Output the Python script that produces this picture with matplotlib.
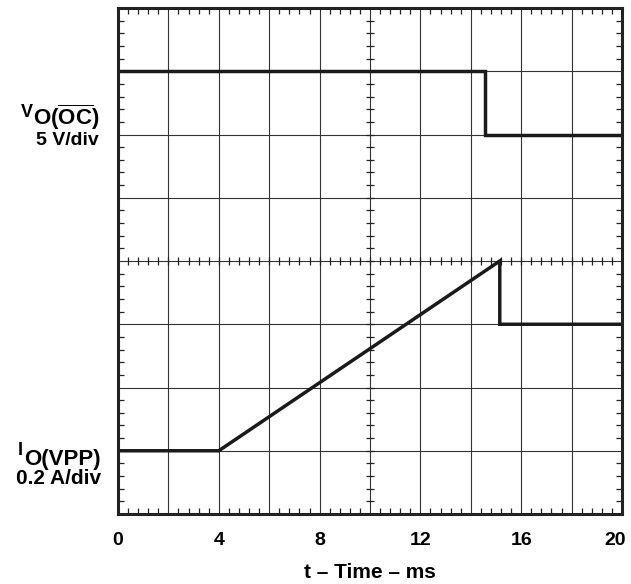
import numpy as np
import matplotlib
matplotlib.use("Agg")
import matplotlib.pyplot as plt
import matplotlib.transforms as mtrans
from matplotlib.ticker import MultipleLocator

plt.rcParams['font.family'] = ['Liberation Sans', 'DejaVu Sans']
plt.rcParams['font.weight'] = 'bold'
plt.rcParams['mathtext.fontset'] = 'custom'
plt.rcParams['mathtext.rm'] = 'Liberation Sans:bold'
plt.rcParams['mathtext.bf'] = 'Liberation Sans:bold'

# traces, in divisions on the screen (8 vertical divs, time in ms)
t_vo = [0, 14.55, 14.55, 20]
vo_div = [7, 7, 6, 6]
t_io = [0, 4, 15.15, 15.15, 20]
io_div = [1, 1, 4, 3, 3]

xtick_vals = list(range(0, 21, 2))
xtick_labels = [str(v) if v % 4 == 0 else '' for v in xtick_vals]

W, H = 631, 584
fig = plt.figure(figsize=(W / 100, H / 100), dpi=100)
ax = fig.add_axes([118 / W, 70 / H, 504 / W, 506 / H])

ax.set_xlim(0, 20)
ax.set_ylim(0, 8)
ax.set_xticks(xtick_vals)
ax.set_xticklabels(xtick_labels, fontsize=14, fontweight='bold')
ax.set_yticks(range(0, 9))
ax.set_yticklabels([])
ax.xaxis.set_minor_locator(MultipleLocator(0.4))
ax.yaxis.set_minor_locator(MultipleLocator(0.2))
ax.tick_params(which='major', length=0, pad=13)
ax.tick_params(which='minor', direction='in', length=4, width=0.9,
               top=True, bottom=True, left=True, right=True, color='#222222')
ax.grid(True, which='major', color='#333333', lw=0.8)
for s in ax.spines.values():
    s.set_linewidth(2.2)
    s.set_color('#222222')

# last label sits a little inside the frame edge
last = ax.get_xticklabels()[-1]
last.set_transform(last.get_transform() +
                   mtrans.ScaledTranslation(-5 / 72, 0, fig.dpi_scale_trans))

# center graticule ticks
cx = np.arange(0, 20.01, 0.4)
cy = np.arange(0, 8.01, 0.2)
ax.plot(cx, np.full_like(cx, 4), ls='none', marker='|', ms=6, mew=0.9, color='#222222')
ax.plot(np.full_like(cy, 10), cy, ls='none', marker='_', ms=6, mew=0.9, color='#222222')

ax.plot(t_vo, vo_div, color='#1a1a1a', lw=2.5, solid_joinstyle='miter')
ax.plot(t_io, io_div, color='#1a1a1a', lw=2.5, solid_joinstyle='miter')

ax.set_xlabel('t – Time – ms', fontsize=15, fontweight='bold', va='baseline')
ax.xaxis.set_label_coords(0.5, -(578 - 514) / 506)


def ftext(x, y, s, size=14):
    fig.text(x / W, 1 - y / H, s, ha='right', va='baseline',
             fontsize=size, fontweight='bold')


ftext(33, 117, 'V', 13)
ftext(99, 125, r'O($\mathrm{\overline{OC}}$)', 16)
ftext(99, 145, '5 V/div', 14)
ftext(23, 455, 'I', 13)
ftext(101, 465, 'O(VPP)', 16)
ftext(101, 484, '0.2 A/div', 15)

fig.savefig('out.png', dpi=100)
